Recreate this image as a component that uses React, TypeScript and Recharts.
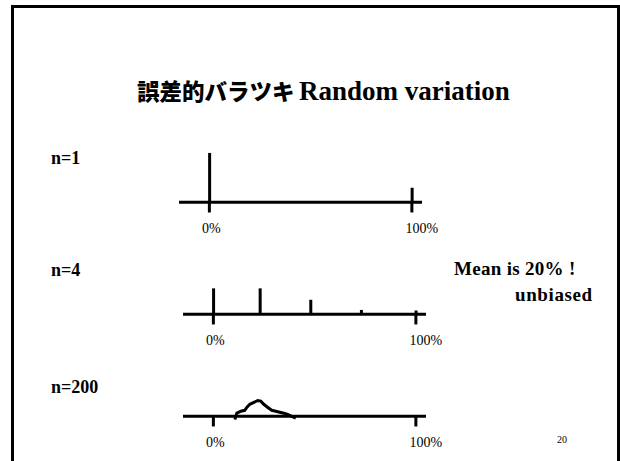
import React from "react";
import { ComposedChart, Bar, Line, XAxis, YAxis, ReferenceLine } from "recharts";

// shared axis: percent of "successes", ticks at both ends
const xDomain = [-15, 105];
const axisTicks = [0, 100];

// n=1 : share of samples at each observed proportion
const n1Pct = [0, 100];
const n1Share = [0.78, 0.23];

// n=4
const n4Pct = [0, 23, 48, 73, 100];
const n4Share = [0.41, 0.41, 0.23, 0.07, 0.06];

// n=200 : rough outline of the histogram
const n200Pct = [10.6, 11.6, 13.6, 15.5, 16.5, 18, 20, 21.9, 23.4, 24.9, 26.9, 28.8, 30.8, 32.8, 34.8, 36.7, 38.7, 40.7];
const n200Share = [-0.05, 0.05, 0.08, 0.095, 0.14, 0.19, 0.22, 0.25, 0.24, 0.19, 0.14, 0.095, 0.08, 0.065, 0.05, 0.03, 0, -0.03];

const serif = "Liberation Serif, Times New Roman, serif";
const gothic = "Noto Sans CJK JP, sans-serif";

const PctTick = (props: any) => {
  const { x, y, payload } = props;
  const dx = payload.value === 100 ? 10 : 2;
  return (
    <text x={x + dx} y={y} dy={10} textAnchor="middle" fontFamily={serif} fontSize={14} fill="#000">
      {payload.value}%
    </text>
  );
};

type PanelProps = {
  data: { x: number; p: number }[];
  kind: "bar" | "line";
  left: number;
  top: number;
};

const Panel = ({ data, kind, left, top }: PanelProps) => (
  <div style={{ position: "absolute", left, top }}>
    <ComposedChart width={283} height={106} data={data} margin={{ top: 0, right: 20, bottom: 0, left: 20 }}>
      <XAxis
        type="number"
        dataKey="x"
        domain={xDomain}
        ticks={axisTicks}
        axisLine={false}
        tickLine={false}
        height={30}
        tick={<PctTick />}
        allowDataOverflow
      />
      <YAxis hide type="number" domain={[-0.2, 1]} allowDataOverflow />
      <ReferenceLine y={0} stroke="#000" strokeWidth={3} />
      {axisTicks.map((t) => (
        <ReferenceLine
          key={t}
          segment={[
            { x: t, y: 0 },
            { x: t, y: -0.16 },
          ]}
          stroke="#000"
          strokeWidth={3}
        />
      ))}
      {kind === "bar" ? (
        <Bar dataKey="p" fill="#000" barSize={3} isAnimationActive={false} />
      ) : (
        <Line type="linear" dataKey="p" stroke="#000" strokeWidth={3} dot={false} isAnimationActive={false} />
      )}
    </ComposedChart>
  </div>
);

const toRows = (xs: number[], ps: number[]) => xs.map((x, i) => ({ x, p: ps[i] }));

export default function App() {
  return (
    <div style={{ position: "absolute", left: 0, top: 0, width: 620, height: 461, overflow: "hidden", background: "#fff" }}>
      <svg width={620} height={461} style={{ position: "absolute", left: 0, top: 0 }}>
        <path d="M12.5 470 V6.5 H618.5 V470" fill="none" stroke="#000" strokeWidth={3} />
        <text x={137} y={100} fontFamily={gothic} fontSize={22.5} fontWeight={900} fill="#000">誤差的バラツキ</text>
        <text x={299} y={100} fontFamily={serif} fontSize={27} fontWeight="bold" fill="#000">Random variation</text>
        <text x={51} y={164} fontFamily={serif} fontSize={18} fontWeight="bold">n=1</text>
        <text x={51} y={276} fontFamily={serif} fontSize={18} fontWeight="bold">n=4</text>
        <text x={51} y={393} fontFamily={serif} fontSize={18} fontWeight="bold">n=200</text>
        <text x={454} y={275} fontFamily={serif} fontSize={19} fontWeight="bold" letterSpacing={0.3}>Mean is 20% !</text>
        <text x={515} y={301} fontFamily={serif} fontSize={19} fontWeight="bold" letterSpacing={0.6}>unbiased</text>
        <text x={557} y={443} fontFamily={serif} fontSize={10}>20</text>
      </svg>
      <Panel data={toRows(n1Pct, n1Share)} kind="bar" left={159} top={139} />
      <Panel data={toRows(n4Pct, n4Share)} kind="bar" left={163} top={251} />
      <Panel data={toRows(n200Pct, n200Share)} kind="line" left={163} top={353} />
    </div>
  );
}
